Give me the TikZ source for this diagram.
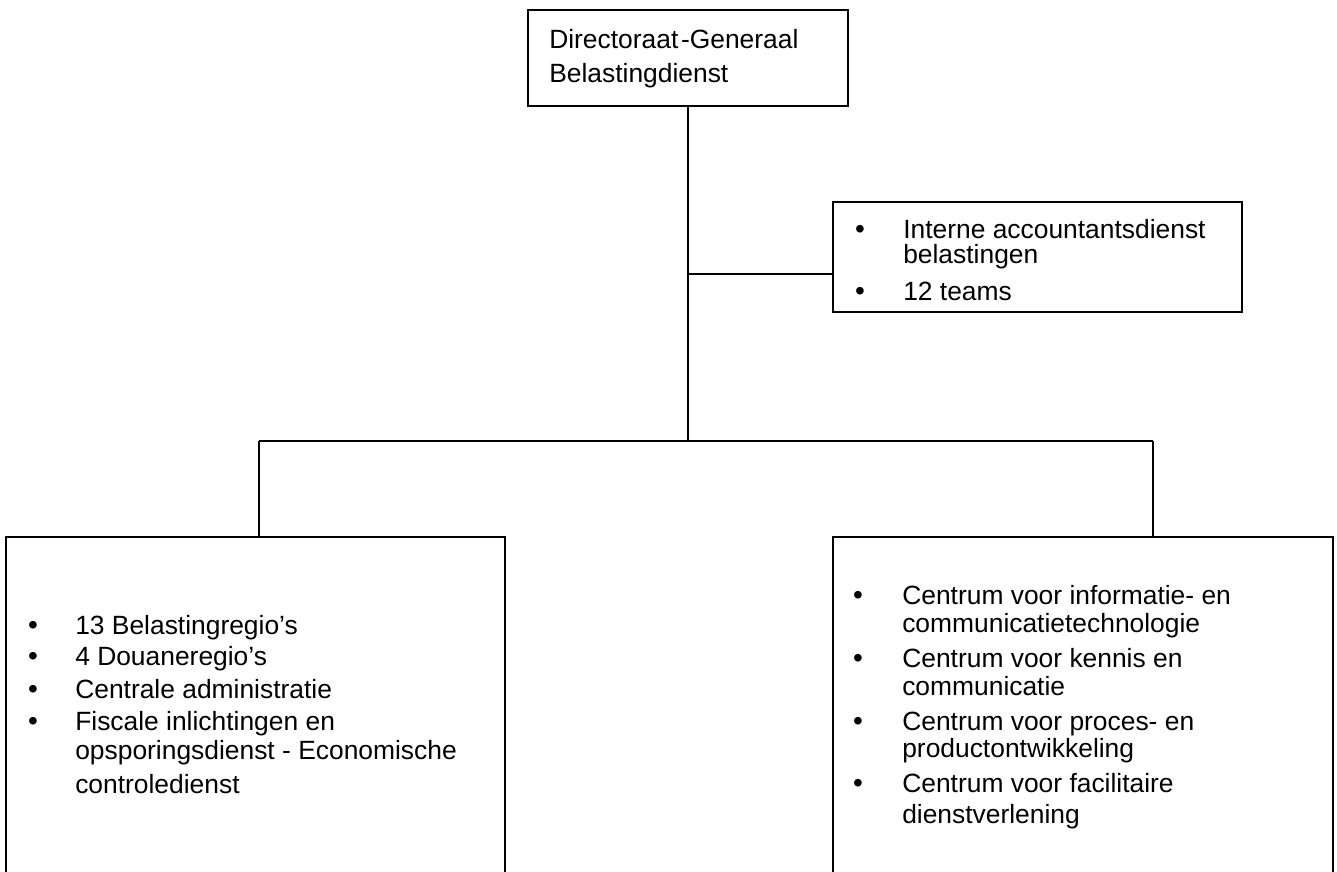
\documentclass[tikz,border=0pt]{standalone}
\usepackage{fontspec}
\setmainfont{Liberation Sans}
\begin{document}
\begin{tikzpicture}[x=0.75pt,y=-0.75pt,
  box/.style={draw=black,line width=1.4pt,fill=none,inner sep=0pt},
  conn/.style={draw=black,line width=1.4pt},
  txt/.style={anchor=base west,inner sep=0pt,font=\fontsize{19.8pt}{24pt}\selectfont},
  bul/.style={anchor=base,inner sep=0pt,font=\fontsize{21pt}{24pt}\selectfont}]
\useasboundingbox (0,0) rectangle (1337,871);
\clip (0,0) rectangle (1337,871);
% boxes
\node[box,minimum width=240pt,minimum height=72pt] (top) at (688,58) {};
\node[box,minimum width=306.75pt,minimum height=82.5pt] (iad) at (1037.5,257) {};
\node[box,minimum width=374.25pt,minimum height=272.25pt] (left) at (255.5,718.5) {};
\node[box,minimum width=375pt,minimum height=272.25pt] (right) at (1083,718.5) {};
% junctions
\coordinate (j1) at (688,274);
\coordinate (j2) at (688,441);
\coordinate (jl) at (259,441);
\coordinate (jr) at (1153,441);
% connectors
\draw[conn] (top.south) -- (j2);
\draw[conn] (j1) -- (j1 -| iad.west);
\draw[conn] (jl) -- (jr);
\draw[conn] (jl) -- (jl |- left.north);
\draw[conn] (jr) -- (jr |- right.north);
% top text
\node[txt] (t1) at (549,48) {Directoraat\kern2pt-Generaal};
\node[txt] (t2) at (549,82) {Belastingdienst};
% IAD text
\node[bul] (ib1) at (860,238) {•};
\node[txt] (i1) at (903,238) {Interne accountantsdienst};
\node[txt] (i2) at (903,263) {belastingen};
\node[bul] (ib2) at (860,300) {•};
\node[txt] (i3) at (903,300) {12 teams};
% left text
\node[bul] (lb1) at (33,634) {•};
\node[txt] (l1) at (75,634) {13 Belastingregio’s};
\node[bul] (lb2) at (33,665) {•};
\node[txt] (l2) at (75,665) {4 Douaneregio’s};
\node[bul] (lb3) at (33,698) {•};
\node[txt] (l3) at (75,698) {Centrale administratie};
\node[bul] (lb4) at (33,730) {•};
\node[txt] (l4) at (75,730) {Fiscale inlichtingen en};
\node[txt] (l5) at (75,759) {opsporingsdienst - Economische};
\node[txt] (l6) at (75,793) {controledienst};
% right text
\node[bul] (rb1) at (858,604) {•};
\node[txt] (r1) at (902,604) {Centrum voor informatie- en};
\node[txt] (r2) at (902,632) {communicatietechnologie};
\node[bul] (rb2) at (858,667) {•};
\node[txt] (r3) at (902,667) {Centrum voor kennis en};
\node[txt] (r4) at (902,695) {communicatie};
\node[bul] (rb3) at (858,730) {•};
\node[txt] (r5) at (902,730) {Centrum voor proces- en};
\node[txt] (r6) at (902,757) {productontwikkeling};
\node[bul] (rb4) at (858,792) {•};
\node[txt] (r7) at (902,792) {Centrum voor facilitaire};
\node[txt] (r8) at (902,823) {dienstverlening};
\end{tikzpicture}
\end{document}
